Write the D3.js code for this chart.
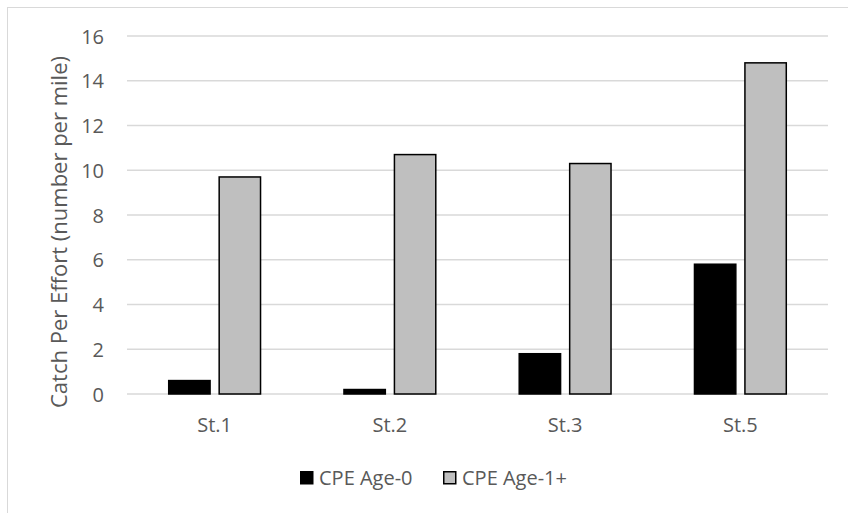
<!DOCTYPE html>
<html>
<head>
<meta charset="utf-8">
<script src="https://cdn.jsdelivr.net/npm/d3@7"></script>
<style>
  html, body { margin: 0; padding: 0; background: #fff; }
  svg { display: block; }
  text { font-family: "Open Sans", sans-serif; fill: #595959; }
</style>
</head>
<body>
<svg id="chart" width="848" height="513"></svg>
<script>
// Catch per effort by station
const stations = ["St.1", "St.2", "St.3", "St.5"];
const age0 = [0.6, 0.2, 1.8, 5.8];
const age1plus = [9.7, 10.7, 10.3, 14.8];
const seriesNames = ["CPE Age-0", "CPE Age-1+"];
const yTicks = [0, 2, 4, 6, 8, 10, 12, 14, 16];

const series = [
  { name: seriesNames[0], values: age0, fill: "#000000", stroke: "#000000" },
  { name: seriesNames[1], values: age1plus, fill: "#bfbfbf", stroke: "#000000" }
];

const svg = d3.select("#chart");
const W = 848, H = 513;
const plot = { left: 127, right: 828, top: 36, bottom: 394 };

// outer chart frame
svg.append("rect")
  .attr("x", 7.5).attr("y", 7.5)
  .attr("width", W + 20).attr("height", H + 20)
  .attr("fill", "none").attr("stroke", "#d9d9d9").attr("stroke-width", 1);

const x = d3.scaleBand().domain(stations).range([plot.left, plot.right]);
const y = d3.scaleLinear().domain([0, 16]).range([plot.bottom, plot.top]);

// gridlines
svg.append("g")
  .selectAll("line")
  .data(yTicks)
  .join("line")
  .attr("x1", plot.left).attr("x2", plot.right)
  .attr("y1", d => y(d)).attr("y2", d => y(d))
  .attr("stroke", "#d9d9d9").attr("stroke-width", 1.5);

// y axis labels
const yAxis = d3.axisLeft(y).tickValues(yTicks).tickSize(0).tickPadding(0);
const yg = svg.append("g").attr("transform", `translate(104,0)`).call(yAxis);
yg.select(".domain").remove();
yg.selectAll("text")
  .attr("font-size", 20).attr("font-family", "Open Sans, sans-serif")
  .attr("fill", "#595959").attr("dy", "0.35em");

// x axis labels
const xAxis = d3.axisBottom(x).tickSize(0).tickPadding(0);
const xg = svg.append("g").attr("transform", `translate(0,${plot.bottom})`).call(xAxis);
xg.select(".domain").remove();
xg.selectAll("text")
  .attr("font-size", 20).attr("font-family", "Open Sans, sans-serif")
  .attr("fill", "#595959").attr("y", 38).attr("dy", 0);

// bars
const barW = x.bandwidth() * 0.236;
const gap = barW * 0.22;
const groupW = barW * 2 + gap;
series.forEach((s, i) => {
  svg.append("g")
    .selectAll("rect")
    .data(stations.map((st, j) => ({ st, v: s.values[j] })))
    .join("rect")
    .attr("x", d => x(d.st) + x.bandwidth() / 2 - groupW / 2 + i * (barW + gap))
    .attr("y", d => y(d.v))
    .attr("width", barW)
    .attr("height", d => y(0) - y(d.v))
    .attr("fill", s.fill)
    .attr("stroke", s.stroke)
    .attr("stroke-width", 1.5);
});

// y axis title
svg.append("text")
  .attr("transform", `translate(67,232) rotate(-90)`)
  .attr("text-anchor", "middle")
  .attr("font-size", 22)
  .text("Catch Per Effort (number per mile)");

// legend
const legendX = [300, 443];
const lg = svg.append("g");
series.forEach((s, i) => {
  lg.append("rect")
    .attr("x", legendX[i] + 0.75).attr("y", 471.75)
    .attr("width", 12).attr("height", 12)
    .attr("fill", s.fill).attr("stroke", s.stroke).attr("stroke-width", 1.5);
  lg.append("text")
    .attr("x", legendX[i] + 19).attr("y", 485)
    .attr("font-size", 20)
    .text(s.name);
});
</script>
</body>
</html>
